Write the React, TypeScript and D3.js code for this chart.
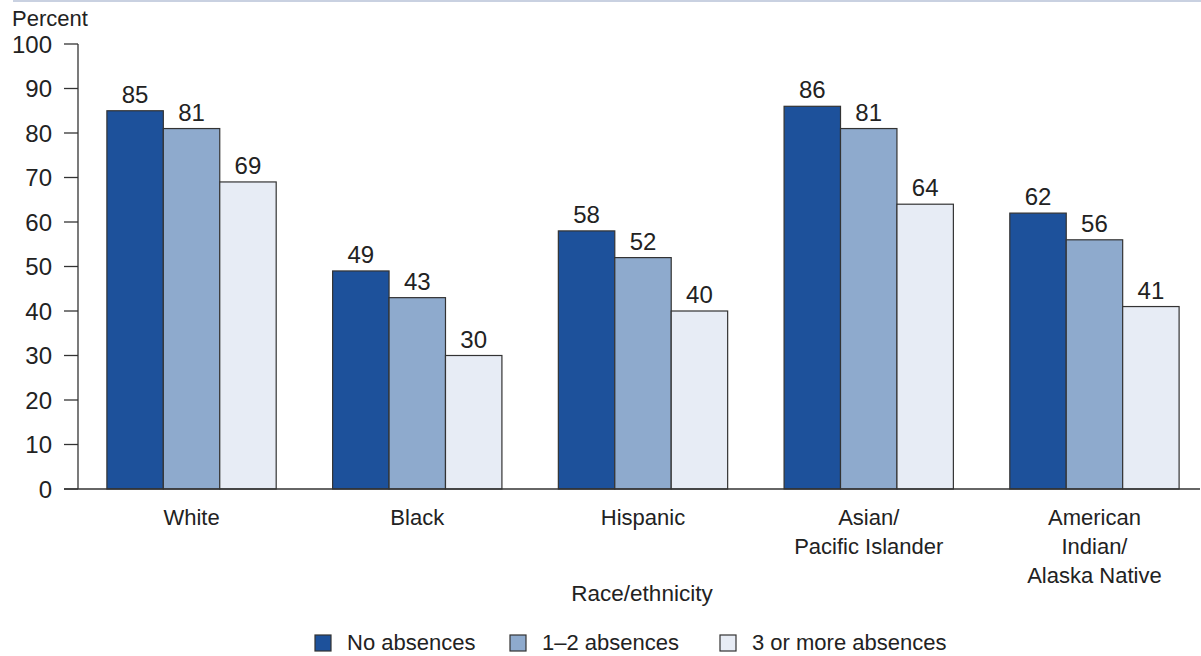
import React from "react";
import * as d3 from "d3";

const categories = [
  ["White"],
  ["Black"],
  ["Hispanic"],
  ["Asian/", "Pacific Islander"],
  ["American", "Indian/", "Alaska Native"],
];
const seriesNames = ["No absences", "1–2 absences", "3 or more absences"];
const noAbsences = [85, 49, 58, 86, 62];
const oneTwoAbsences = [81, 43, 52, 81, 56];
const threePlusAbsences = [69, 30, 40, 64, 41];
const yTicks = [0, 10, 20, 30, 40, 50, 60, 70, 80, 90, 100];
const colors = ["#1d519b", "#8eaacd", "#e7ecf5"];

const W = 1201;
const H = 656;
const FONT = "'Liberation Sans', Arial, sans-serif";
const FS = 22;
const FN = 24;
const TXT = "#222";

export default function App() {
  const series = [noAbsences, oneTwoAbsences, threePlusAbsences];
  const y = d3.scaleLinear().domain([0, 100]).range([489, 44]);
  const x0 = d3
    .scaleBand<number>()
    .domain(categories.map((_, i) => i))
    .range([78, 1208])
    .paddingInner(0.25)
    .paddingOuter(0.128);
  const x1 = d3
    .scaleBand<number>()
    .domain(series.map((_, i) => i))
    .range([0, x0.bandwidth()]);

  const legendX = [315, 510, 720];

  return (
    <svg
      width={W}
      height={H}
      style={{ position: "absolute", left: 0, top: 0, background: "#fff" }}
      fontFamily={FONT}
    >
      <line x1={13} x2={W} y1={1} y2={1} stroke="#c9d1e1" strokeWidth={2} />
      <text x={12} y={26} fontSize={FS} fill={TXT}>
        Percent
      </text>
      {/* y axis */}
      <line x1={78} x2={78} y1={y(100)} y2={y(0)} stroke="#333" strokeWidth={1.3} />
      {yTicks.map((t) => (
        <g key={t}>
          <line x1={64} x2={78} y1={y(t)} y2={y(t)} stroke="#333" strokeWidth={1.3} />
          <text
            x={52}
            y={y(t)}
            dy="0.36em"
            textAnchor="end"
            fontSize={FN}
            fill={TXT}
          >
            {t}
          </text>
        </g>
      ))}
      {/* bars */}
      {categories.map((cat, ci) => (
        <g key={ci} transform={`translate(${x0(ci)},0)`}>
          {series.map((s, si) => (
            <g key={si}>
              <rect
                x={x1(si)}
                y={y(s[ci])}
                width={x1.bandwidth()}
                height={y(0) - y(s[ci])}
                fill={colors[si]}
                stroke="#333"
                strokeWidth={1.2}
              />
              <text
                x={(x1(si) as number) + x1.bandwidth() / 2}
                y={y(s[ci]) - 8}
                textAnchor="middle"
                fontSize={FN}
                fill={TXT}
              >
                {s[ci]}
              </text>
            </g>
          ))}
          {cat.map((line, li) => (
            <text
              key={li}
              x={x0.bandwidth() / 2}
              y={525 + li * 29}
              textAnchor="middle"
              fontSize={FS}
              fill={TXT}
            >
              {line}
            </text>
          ))}
        </g>
      ))}
      {/* baseline */}
      <line x1={64} x2={1200} y1={y(0)} y2={y(0)} stroke="#333" strokeWidth={1.3} />
      <text x={642} y={601} textAnchor="middle" fontSize={FS + 0.5} fill={TXT}>
        Race/ethnicity
      </text>
      {/* legend */}
      {seriesNames.map((name, i) => (
        <g key={name} transform={`translate(${legendX[i]},635)`}>
          <rect x={0} y={0} width={16} height={16} fill={colors[i]} stroke="#333" strokeWidth={1.2} />
          <text x={32} y={15} fontSize={FS} fill={TXT}>
            {name}
          </text>
        </g>
      ))}
    </svg>
  );
}
